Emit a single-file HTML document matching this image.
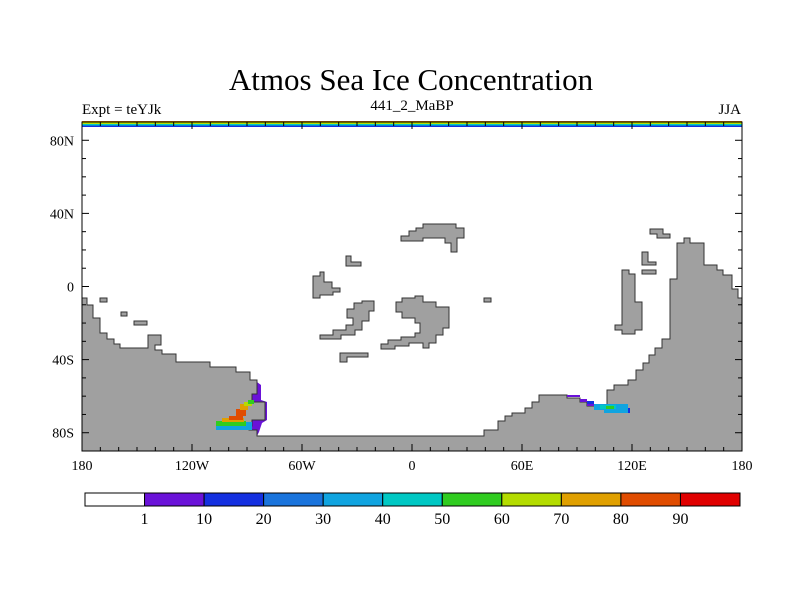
<!DOCTYPE html>
<html><head><meta charset="utf-8"><style>
body{margin:0;background:#fff;width:800px;height:600px;overflow:hidden}
text{font-family:"Liberation Serif",serif;fill:#000}
</style></head><body>
<svg width="800" height="600">
<text x="411" y="90" font-size="31" text-anchor="middle">Atmos Sea Ice Concentration</text>
<text x="82" y="114" font-size="15">Expt = teYJk</text>
<text x="412" y="110" font-size="15" text-anchor="middle">441_2_MaBP</text>
<text x="741" y="114" font-size="15" text-anchor="end">JJA</text>
<g id="map"></g>
<g id="axes"></g>
<g id="cbar"></g>
</svg>
<script>
const lonTicks=[-180,-120,-60,0,60,120,180];
const lonLabels=["180","120W","60W","0","60E","120E","180"];
const latTicks=[80,40,0,-40,-80];
const latLabels=["80N","40N","0","40S","80S"];
const levels=[1,10,20,30,40,50,60,70,80,90];
const levelColors=["#ffffff","#6a12d8","#1430e0","#1a74dc","#10a4e0","#00c8c4","#30cc20","#b4dc00","#e0a000","#e04c00","#e00000"];
const X0=82,X1=742,Y0=122,Y1=451;
const xs=l=>X0+(l+180)/360*(X1-X0);
const ys=l=>Y0+(90-l)/180*(Y1-Y0);
const NS="http://www.w3.org/2000/svg";
function mk(tag,attrs,parent){const e=document.createElementNS(NS,tag);for(const k in attrs)e.setAttribute(k,attrs[k]);parent.appendChild(e);return e;}
const map=document.getElementById('map');
const land=[
[[82,298],[87,298],[87,305],[93,305],[93,318],[100,318],[100,333],[107,333],[107,339],[114,339],[114,344],[120,344],[120,348],[148,348],[148,335],[161,335],[161,345],[155,345],[155,350],[162,350],[162,354],[176,354],[176,362],[210,362],[210,367],[236,367],[236,372],[250,372],[250,380],[257,380],[257,394],[252,394],[252,402],[265,402],[265,420],[252,420],[252,426],[249,426],[249,430],[257,430],[257,436],[484,436],[484,430],[498,430],[498,421],[505,421],[505,416],[512,416],[512,413],[525,413],[525,408],[532,408],[532,402],[539,402],[539,395],[567,395],[567,398],[580,398],[580,402],[587,402],[587,406],[607,406],[607,390],[614,390],[614,385],[628,385],[628,380],[636,380],[636,370],[643,370],[643,363],[649,363],[649,355],[655,355],[655,348],[662,348],[662,339],[670,339],[670,279],[677,279],[677,243],[684,243],[684,238],[690,238],[690,243],[704,243],[704,265],[717,265],[717,270],[723,270],[723,275],[732,275],[732,289],[738,289],[738,298],[742,298],[742,451],[82,451]],
[[401,241],[401,236],[409,236],[409,231],[416,231],[416,228],[423,228],[423,224],[456,224],[456,228],[464,228],[464,238],[457,238],[457,252],[451,252],[451,243],[445,243],[445,238],[423,238],[423,241]],
[[346,256],[351,256],[351,262],[361,262],[361,266],[346,266]],
[[313,276],[320,276],[320,272],[324,272],[324,282],[332,282],[332,288],[340,288],[340,292],[333,292],[333,295],[320,295],[320,298],[313,298]],
[[320,335],[333,335],[333,330],[346,330],[346,325],[353,325],[353,318],[347,318],[347,309],[354,309],[354,303],[362,303],[362,301],[374,301],[374,311],[369,311],[369,321],[362,321],[362,330],[355,330],[355,335],[341,335],[341,339],[320,339]],
[[396,312],[396,302],[402,302],[402,298],[415,298],[415,296],[423,296],[423,302],[436,302],[436,307],[449,307],[449,328],[443,328],[443,335],[436,335],[436,343],[429,343],[429,348],[423,348],[423,343],[409,343],[409,346],[395,346],[395,349],[381,349],[381,344],[388,344],[388,340],[401,340],[401,337],[415,337],[415,333],[420,333],[420,323],[415,323],[415,318],[402,318],[402,312]],
[[340,353],[368,353],[368,357],[347,357],[347,362],[340,362]],
[[484,298],[491,298],[491,302],[484,302]],
[[650,229],[663,229],[663,234],[670,234],[670,238],[657,238],[657,234],[650,234]],
[[642,252],[648,252],[648,262],[656,262],[656,265],[642,265]],
[[642,270],[656,270],[656,274],[642,274]],
[[622,270],[629,270],[629,274],[635,274],[635,302],[642,302],[642,330],[635,330],[635,334],[622,334],[622,330],[615,330],[615,325],[622,325]],
[[100,298],[107,298],[107,302],[100,302]],
[[121,312],[127,312],[127,316],[121,316]],
[[134,321],[147,321],[147,325],[134,325]]
];
mk('path',{d:'M257,382 L261,385 L261,400 L267,402 L267,420 L262,423 L259,432 L257,436 L257,430 L249,430 L249,426 L252,426 L252,420 L265,420 L265,402 L252,402 L252,394 L257,394 Z',fill:'#6a12d8'},map);
land.forEach((p,i)=>{const e=mk('polygon',{points:p.map(q=>q.join(',')).join(' '),fill:'#a0a0a0',stroke:'#333','stroke-width':1},map);

});
const ice=[[216,422,36,8,"#10a4e0"],[216,421,30,5,"#30cc20"],[222,418,22,4,"#e0a000"],[229,416,14,4,"#e04c00"],[236,409,10,7,"#e04c00"],[240,404,8,6,"#e0a000"],[244,402,8,4,"#b4dc00"],[248,400,6,4,"#30cc20"],
[580,399,7,3,"#6a12d8"],[587,401,7,4,"#1430e0"],[587,404,20,2,"#6a12d8"],[594,404,34,6,"#10a4e0"],[600,405,16,4,"#00c8c4"],[606,406,8,3,"#30cc20"],[604,409,24,4,"#10a4e0"],[628,408,2,5,"#1430e0"],[567,395,13,2,"#6a12d8"]];
ice.forEach(r=>{const e=mk('rect',{x:r[0],y:r[1],width:r[2],height:r[3],fill:r[4]},map);

});
[["#e08000",121],["#b4dc00",122.5],["#00c8c4",124],["#1430e0",125.5]].forEach(s=>{const e=mk('rect',{x:X0,y:s[1],width:X1-X0,height:1.5,fill:s[0]},map);

});
const ax=document.getElementById('axes');
mk('rect',{x:X0,y:Y0,width:X1-X0,height:Y1-Y0,fill:'none',stroke:'#000','stroke-width':1},ax);
for(let l=-180;l<=180;l+=10){const maj=l%60===0,len=maj?7:4,x=xs(l);
mk('line',{x1:x,y1:Y1,x2:x,y2:Y1-len,stroke:'#000'},ax);mk('line',{x1:x,y1:Y0,x2:x,y2:Y0+len,stroke:'#000'},ax);}
for(let l=-90;l<=90;l+=10){const maj=l%40===0,len=maj?7:4,y=ys(l);
mk('line',{x1:X0,y1:y,x2:X0+len,y2:y,stroke:'#000'},ax);mk('line',{x1:X1,y1:y,x2:X1-len,y2:y,stroke:'#000'},ax);}
lonTicks.forEach((l,i)=>{const t=mk('text',{x:xs(l),y:470,'font-size':14,'text-anchor':'middle'},ax);t.textContent=lonLabels[i];

});
latTicks.forEach((l,i)=>{const t=mk('text',{x:74,y:ys(l)+5,'font-size':14,'text-anchor':'end'},ax);t.textContent=latLabels[i];

});
const cb=document.getElementById('cbar');const cx0=85,cx1=740,cw=(cx1-cx0)/levelColors.length;
levelColors.forEach((c,i)=>{const e=mk('rect',{x:cx0+i*cw,y:493,width:cw,height:13,fill:c,stroke:'#000','stroke-width':1},cb);

});
levels.forEach((v,i)=>{const t=mk('text',{x:cx0+(i+1)*cw,y:524,'font-size':16,'text-anchor':'middle'},cb);t.textContent=v;

});
</script>
</body></html>
